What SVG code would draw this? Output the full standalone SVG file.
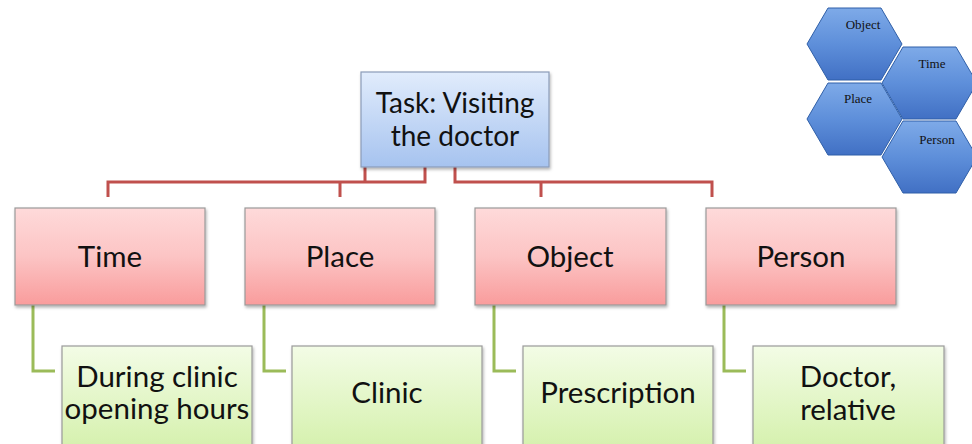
<svg xmlns="http://www.w3.org/2000/svg" width="972" height="444" viewBox="0 0 972 444">
<defs>
<linearGradient id="gBlue" x1="0" y1="0" x2="0" y2="1"><stop offset="0" stop-color="#e1ecfc"/><stop offset="1" stop-color="#a6c3ef"/></linearGradient>
<linearGradient id="gRed" x1="0" y1="0" x2="0" y2="1"><stop offset="0" stop-color="#fedada"/><stop offset="0.5" stop-color="#fcc4c4"/><stop offset="1" stop-color="#f99c9c"/></linearGradient>
<linearGradient id="gGreen" x1="0" y1="0" x2="0" y2="1"><stop offset="0" stop-color="#f3fce6"/><stop offset="1" stop-color="#d3f0a9"/></linearGradient>
<linearGradient id="gHex" x1="0" y1="0" x2="0" y2="1"><stop offset="0" stop-color="#7eaae8"/><stop offset="0.5" stop-color="#5e8fda"/><stop offset="1" stop-color="#4170c4"/></linearGradient>
<filter id="sh" x="-10%" y="-10%" width="125%" height="130%"><feDropShadow dx="1" dy="2" stdDeviation="1.5" flood-color="#000" flood-opacity="0.3"/></filter>
<polygon id="hex" points="0,36 21,0 74,0 95,36 74,72 21,72"/>
</defs>
<style>
.box{stroke:#9a9a9a;stroke-width:1.2;filter:url(#sh)}
.blue{fill:url(#gBlue);stroke:#8b9cb8}
.red{fill:url(#gRed)}
.green{fill:url(#gGreen)}
.t{font-family:Lato,"Liberation Sans",sans-serif;font-size:29.5px;fill:#111;text-anchor:middle}
.tk{font-size:28px}
.rl{stroke:#c0504d;stroke-width:3;fill:none}
.gl{stroke:#9bbb59;stroke-width:3;fill:none}
.hx{fill:url(#gHex);stroke:#2f5fa8;stroke-width:1}
.ht{font-family:"Liberation Serif",serif;font-size:13px;fill:#111;text-anchor:middle}
</style>
<rect width="972" height="444" fill="#fff"/>
<g id="connectors">
<path class="rl" d="M108,197 V182 H425 V167 M340,182 V197 M365,167 V182"/>
<path class="rl" d="M455,167 V182 H712 V197 M541,182 V197"/>
<path class="gl" d="M33,305 V371 H55"/>
<path class="gl" d="M264,305 V371 H286"/>
<path class="gl" d="M494,305 V371 H516"/>
<path class="gl" d="M724,305 V371 H746"/>
</g>
<g id="task"><rect class="box blue" x="361" y="72" width="188" height="95"/><text class="t tk" x="455" y="113">Task: Visiting</text><text class="t tk" x="455" y="146">the doctor</text></g>
<g id="time"><rect class="box red" x="15" y="208" width="190" height="97"/><text class="t" x="110" y="267">Time</text></g>
<g id="place"><rect class="box red" x="245" y="208" width="190" height="97"/><text class="t" x="340" y="267">Place</text></g>
<g id="object"><rect class="box red" x="475" y="208" width="191" height="97"/><text class="t" x="570" y="267">Object</text></g>
<g id="person"><rect class="box red" x="706" y="208" width="190" height="97"/><text class="t" x="801" y="267">Person</text></g>
<g id="during"><rect class="box green" x="62" y="346" width="190" height="110"/><text class="t" x="157" y="387">During clinic</text><text class="t" x="157" y="419">opening hours</text></g>
<g id="clinic"><rect class="box green" x="292" y="346" width="190" height="110"/><text class="t" x="387" y="403">Clinic</text></g>
<g id="prescription"><rect class="box green" x="523" y="346" width="190" height="110"/><text class="t" x="618" y="403">Prescription</text></g>
<g id="doctor"><rect class="box green" x="753" y="346" width="191" height="110"/><text class="t" x="848" y="387">Doctor,</text><text class="t" x="848" y="420">relative</text></g>
<g id="hexObject"><use href="#hex" class="hx" x="807" y="8"/><text class="ht" x="863" y="29">Object</text></g>
<g id="hexTime"><use href="#hex" class="hx" x="882" y="47"/><text class="ht" x="932" y="68">Time</text></g>
<g id="hexPlace"><use href="#hex" class="hx" x="807" y="83"/><text class="ht" x="858" y="103">Place</text></g>
<g id="hexPerson"><use href="#hex" class="hx" x="882" y="121"/><text class="ht" x="937" y="144">Person</text></g>
</svg>
